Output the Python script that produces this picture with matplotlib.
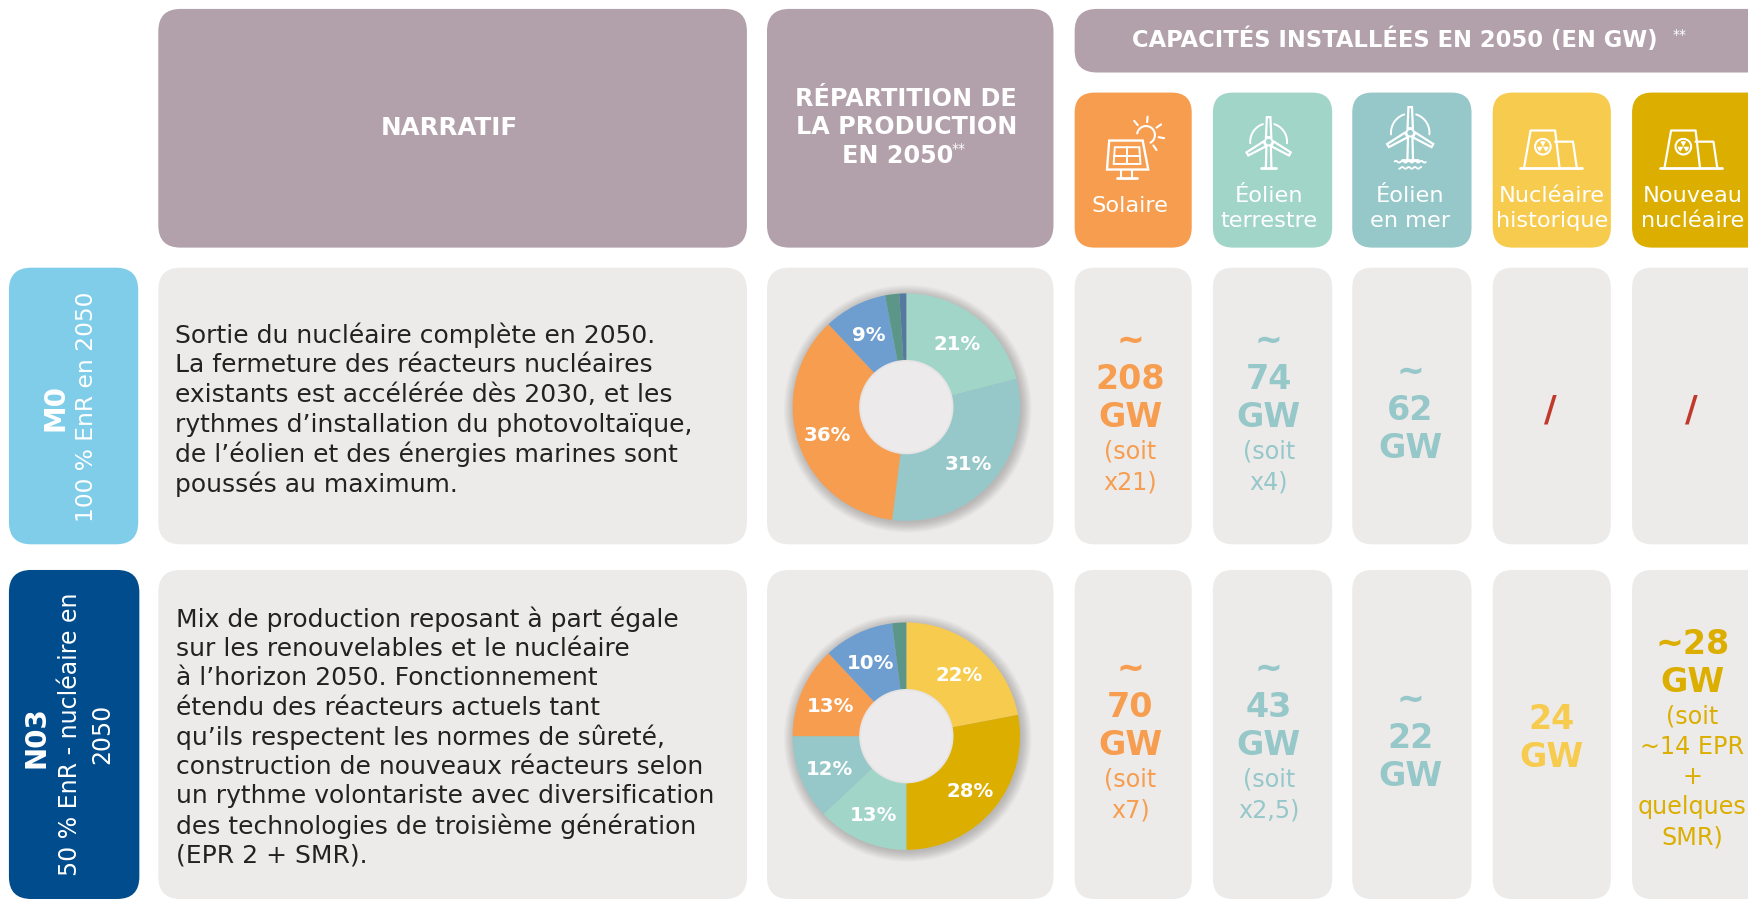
import numpy as np
import matplotlib
matplotlib.use('agg')
import matplotlib.pyplot as plt
from matplotlib.patches import FancyBboxPatch, Circle, Polygon, Wedge

# data
techs = ['Solaire', 'Éolien\nterrestre', 'Éolien\nen mer', 'Nucléaire\nhistorique', 'Nouveau\nnucléaire']
m0_shares = [21, 31, 36, 9, 2, 1]
n03_shares = [22, 28, 13, 12, 13, 10, 2]
m0_text = ['Sortie du nucléaire complète en 2050.',
           'La fermeture des réacteurs nucléaires',
           'existants est accélérée dès 2030, et les',
           'rythmes d’installation du photovoltaïque,',
           'de l’éolien et des énergies marines sont',
           'poussés au maximum.']
n03_text = ['Mix de production reposant à part égale',
            'sur les renouvelables et le nucléaire',
            'à l’horizon 2050. Fonctionnement',
            'étendu des réacteurs actuels tant',
            'qu’ils respectent les normes de sûreté,',
            'construction de nouveaux réacteurs selon',
            'un rythme volontariste avec diversification',
            'des technologies de troisième génération',
            '(EPR 2 + SMR).']
m0_big = [['~', '208', 'GW'], ['~', '74', 'GW'], ['~', '62', 'GW'], ['/'], ['/']]
m0_small = [['(soit', 'x21)'], ['(soit', 'x4)'], [], [], []]
n03_big = [['~', '70', 'GW'], ['~', '43', 'GW'], ['~', '22', 'GW'], ['24', 'GW'], ['~28', 'GW']]
n03_small = [['(soit', 'x7)'], ['(soit', 'x2,5)'], [], [], ['(soit', '~14 EPR', '+', 'quelques', 'SMR)']]

ORANGE = '#F79D4F'
LTEAL = '#A1D5C8'
TEAL = '#96C7C9'
YELLOW = '#F7CB4D'
GOLD = '#DBAE00'
BLUE = '#6D9ECF'
GREEN = '#5B9688'
DBLUE = '#55799F'
MAUVE = '#B2A1AA'
GREY = '#ECEBEA'
RED = '#C0392B'
tech_cols = [ORANGE, LTEAL, TEAL, YELLOW, GOLD]
value_cols = [ORANGE, TEAL, TEAL, YELLOW, GOLD]
m0_cols = [LTEAL, TEAL, ORANGE, BLUE, GREEN, DBLUE]
n03_cols = [YELLOW, GOLD, LTEAL, TEAL, ORANGE, BLUE, GREEN]

W, H = 1568., 806.
fig = plt.figure(figsize=(17.48, 8.99), dpi=100, facecolor='white')
ax = fig.add_axes([0, 0, 1, 1])
ax.set_xlim(0, W)
ax.set_ylim(H, 0)
ax.axis('off')


def box(x0, x1, y0, y1, col, r=20):
    ax.add_patch(FancyBboxPatch((x0 + r, y0 + r), x1 - x0 - 2 * r, y1 - y0 - 2 * r,
                                boxstyle='round,pad=%d,rounding_size=%d' % (r, r),
                                fc=col, ec='none', zorder=1))


def line(xs, ys, lw=1.6):
    ax.plot(xs, ys, color='white', lw=lw, solid_capstyle='round', solid_joinstyle='round', zorder=3)


def turbine(cx, cy, r, base):
    line([cx - 2, cx - 2.5], [cy + 4, base])
    line([cx + 2, cx + 2.5], [cy + 4, base])
    line([cx - 7, cx + 7], [base, base], lw=2)
    ax.add_patch(Circle((cx, cy), 3.4, fc='none', ec='white', lw=1.4, zorder=3))
    for a in [90, 210, 330]:
        t = np.radians(a)
        d = np.array([np.cos(t), -np.sin(t)])
        n = np.array([-d[1], d[0]])
        p = np.array([cx, cy])
        pts = [p + d * 4 + n * 2.4, p + d * r + n * 1.6, p + d * r - n * 1.6, p + d * 4 - n * 2.4]
        ax.add_patch(Polygon(pts, closed=True, fc='none', ec='white', lw=1.6, zorder=3))
    for a0, a1 in [(-5, 72), (108, 185)]:
        t = np.radians(np.linspace(a0, a1, 24))
        line(cx + r * 0.75 * np.cos(t), cy - r * 0.75 * np.sin(t), lw=1.4)


def nuclear(cx):
    base = 151
    line([cx - 27.5, cx + 28], [base, base], lw=2)
    line([cx - 24, cx - 18, cx + 4, cx + 8], [base, 117, 117, base])
    line([cx + 4, cx + 20, cx + 23.5], [127, 127, base])
    ax.add_patch(Circle((cx - 7, 131.5), 7, fc='none', ec='white', lw=1.5, zorder=3))
    for a in [30, 150, 270]:
        ax.add_patch(Wedge((cx - 7, 131.5), 5, a - 30, a + 30, fc='white', ec='none', zorder=3))


def solar(cx):
    ax.add_patch(Polygon([(cx - 19, 126), (cx + 11, 126), (cx + 16, 152), (cx - 21, 152)],
                         closed=True, fc='none', ec='white', lw=1.7, zorder=3))
    ax.add_patch(Polygon([(cx - 14, 132), (cx + 8, 132), (cx + 9, 147), (cx - 15, 147)],
                         closed=True, fc='none', ec='white', lw=1.4, zorder=3))
    line([cx - 15, cx + 9], [139.5, 139.5], lw=1.4)
    line([cx - 3, cx - 3], [132, 147], lw=1.4)
    line([cx - 8, cx - 8], [152, 160], lw=1.5)
    line([cx + 1, cx + 1], [152, 160], lw=1.5)
    line([cx - 12, cx + 6], [160, 160], lw=2)
    t = np.radians(np.linspace(-60, 170, 30))
    line(cx + 14 + 8 * np.cos(t), 121 - 8 * np.sin(t), lw=1.5)
    for a in [-55, -10, 35, 85, 130]:
        t = np.radians(a)
        line([cx + 14 + 11.5 * np.cos(t), cx + 14 + 16.5 * np.cos(t)],
             [121 - 11.5 * np.sin(t), 121 - 16.5 * np.sin(t)], lw=1.5)


def donut(cx, cy, r, shares, cols):
    s = r * 1.3
    pa = fig.add_axes([(cx - s) / W, 1 - (cy + s) / H, 2 * s / W, 2 * s / H])
    pa.set_facecolor('none')
    for k in range(14):
        pa.add_patch(Circle((0.012, -0.015), 1.09 - k * 0.007, fc='#4a4a4a', ec='none', alpha=0.022, zorder=0))
    wedges, texts, auto = pa.pie(shares, colors=cols, startangle=90, counterclock=False, radius=1,
                                 wedgeprops=dict(linewidth=0), pctdistance=0.73,
                                 autopct=lambda p: '%d%%' % round(p) if p >= 5 else '')
    for t in auto:
        t.set(color='white', fontsize=14.2, fontweight='bold', zorder=6)
        px, py = t.get_position()
        t.set_position((px, py - 0.025))
    pa.add_patch(Circle((0, 0), 0.415, fc='#E6E3E4', ec='none', zorder=4))
    pa.add_patch(Circle((0, 0), 0.40, fc='#ECEAEB', ec='none', zorder=5))
    pa.set_xlim(-1.3, 1.3)
    pa.set_ylim(-1.3, 1.3)
    pa.set_aspect('equal')


card_x = [(964, 1069), (1088, 1195), (1213, 1320), (1339, 1445), (1464, 1590)]
centers = [1014, 1138, 1265, 1392, 1518]

# headers
box(142, 670, 8, 222, MAUVE)
box(688, 945, 8, 222, MAUVE)
box(964, 1590, 8, 65, MAUVE)
ax.text(403, 115, 'NARRATIF', color='white', fontsize=17.7, fontweight='bold', ha='center', va='center')
for y, s in [(89, 'RÉPARTITION DE'), (114, 'LA PRODUCTION')]:
    ax.text(813, y, s, color='white', fontsize=17.2, fontweight='bold', ha='center', va='center')
ax.text(805, 140, 'EN 2050', color='white', fontsize=17.2, fontweight='bold', ha='center', va='center')
ax.text(860, 134, '**', color='white', fontsize=10, ha='center', va='center')
ax.text(1251, 36, 'CAPACITÉS INSTALLÉES EN 2050 (EN GW)', color='white', fontsize=16.3,
        fontweight='bold', ha='center', va='center')
ax.text(1507, 31, '**', color='white', fontsize=10, ha='center', va='center')

for (x0, x1), c, col, name in zip(card_x, centers, tech_cols, techs):
    box(x0, x1, 83, 222, col, r=18)
    lines = name.split('\n')
    ys = [185] if len(lines) == 1 else [176, 198]
    for y, s in zip(ys, lines):
        ax.text(c, y, s, color='white', fontsize=16.2, ha='center', va='center')
solar(1014)
turbine(1138, 127, 22, 151)
turbine(1265, 119, 23, 143)
for hw, y in [(14, 145), (10, 150.5)]:
    t = np.linspace(-hw, hw, 40)
    line(1265 + t, y + 0.8 * np.sin(t * 1.1), lw=1.3)
nuclear(1391)
nuclear(1517)

# rows
box(8, 124, 240, 488, '#7FCDE9')
box(8, 125, 511, 806, '#004C8C')
ax.text(50, 365, 'M0', color='white', fontsize=20, fontweight='bold', rotation=90, ha='center', va='center')
ax.text(78, 365, '100 % EnR en 2050', color='white', fontsize=16.8, rotation=90, ha='center', va='center')
ax.text(33, 661, 'N03', color='white', fontsize=20, fontweight='bold', rotation=90, ha='center', va='center')
ax.text(63, 658, '50 % EnR - nucléaire en', color='white', fontsize=17, rotation=90, ha='center', va='center')
ax.text(92, 658, '2050', color='white', fontsize=17, rotation=90, ha='center', va='center')

box(142, 670, 240, 488, GREY)
box(142, 670, 511, 806, GREY)
box(688, 945, 240, 488, GREY)
box(688, 945, 511, 806, GREY)
for x0, x1 in card_x:
    box(x0, x1, 240, 488, GREY, r=18)
    box(x0, x1, 511, 806, GREY, r=18)

for i, s in enumerate(m0_text):
    ax.text(157, 301 + i * 26.6, s, color='#222222', fontsize=18, ha='left', va='center')
for i, s in enumerate(n03_text):
    ax.text(158, 555 + i * 26.5, s, color='#222222', fontsize=18, ha='left', va='center')

donut(813, 365, 102, m0_shares, m0_cols)
donut(813, 660, 102, n03_shares, n03_cols)


def values(mid, big, small, col, c, gap=28):
    # stack the big bold lines then the small ones, centred on mid
    h = 34 * len(big) + gap * len(small)
    y = mid - h / 2 + 17
    for s in big:
        if s == '/':
            ax.text(c - 1, mid, s, color=RED, fontsize=25, fontweight='bold', ha='center', va='center')
            continue
        ax.text(c, y, s, color=col, fontsize=24, fontweight='bold', ha='center', va='center')
        y += 34
    y -= 3
    for s in small:
        ax.text(c, y, s, color=col, fontsize=17.2, ha='center', va='center')
        y += gap


for c, col, b, s in zip(centers, value_cols, m0_big, m0_small):
    values(368, b, s, col, c)
for c, col, b, s in zip(centers, value_cols, n03_big, n03_small):
    values(662, b, s, col, c, gap=27 if len(s) > 2 else 28)

fig.savefig('out.png', dpi=100)
